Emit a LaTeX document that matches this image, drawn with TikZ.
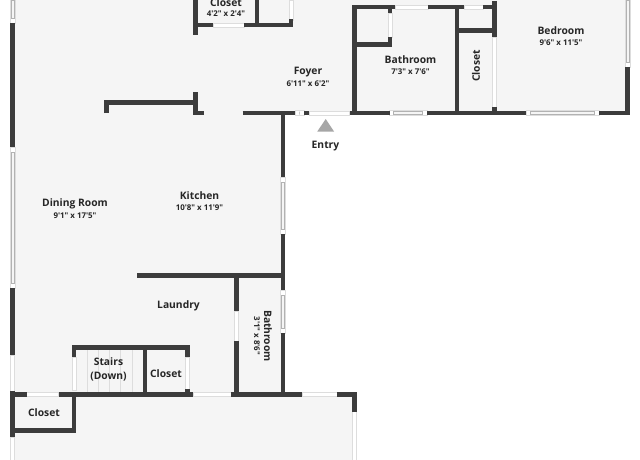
\documentclass[tikz,border=0pt]{standalone}
\usepackage{fontspec}
\setmainfont{Open Sans}[Ligatures=TeXOff]
\definecolor{wallgrey}{HTML}{3C3C3C}
\definecolor{floorgrey}{HTML}{F5F5F5}
\definecolor{edgegrey}{HTML}{DDDDDD}
\begin{document}
\begin{tikzpicture}[
    x=1pt,y=-1pt,
    wall/.style={draw=wallgrey, line width=4.9pt, line join=miter},
    thinwall/.style={draw=wallgrey, line width=4.4pt},
    opening/.style={fill=white, draw=edgegrey, line width=0.6pt},
    pane/.style={fill=floorgrey, draw=gray!60, line width=0.5pt},
    tread/.style={draw=edgegrey, line width=0.6pt},
    room/.style={font=\bfseries\fontsize{10.3}{12}\selectfont, text=black!85, inner sep=0pt, align=center},
    size/.style={font=\bfseries\fontsize{7.9}{9}\selectfont, text=black!85, inner sep=0pt}
    ]
	\useasboundingbox (0,0) rectangle (640,460);
	\fill[white] (0,0) rectangle (640,460);
	\fill[floorgrey] (15,0) -- (627,0) -- (627,113) -- (283,113) -- (283,394) -- (355,394) -- (355,460) -- (15,460) -- cycle;
	% openings in the outer and inner walls
	\foreach \xa/\xb/\yy in {213/244/25, 395/428/7, 464/483/7, 309/349/113, 26.7/58.7/394, 193/231/394, 302/337/394}
		\draw[opening] (\xa,\yy-2) rectangle (\xb,\yy+2);
	\foreach \ya/\yb/\xx in {0/20/291, 13/37/390, 37/107/494.5, 311/341/236.7, 357/390/74, 357/389/187.5, 355/391/12.7, 437/460/12.7, 411/460/354.7}
		\draw[opening] (\xx-2,\ya) rectangle (\xx+2,\yb);
	% windows
	\foreach \xa/\xb in {295/304, 389.5/427, 526/599} {
		\draw[opening] (\xa,110.5) rectangle (\xb,115.5);
		\draw[pane] (\xa+4,111.5) rectangle (\xb-5,114.5);
	}
	\foreach \ya/\yb/\xx in {177/234/283, 290/333/283, -5/23/12.7, 147/288/12.7, -5/67/627.3} {
		\draw[opening] (\xx-2.5,\ya) rectangle (\xx+2.5,\yb);
		\draw[pane] (\xx-1.5,\ya+5) rectangle (\xx+1.5,\yb-5);
	}
	% stair treads
	\foreach \xx in {87.3,98,109.3,120.7,132}
		\draw[tread] (\xx,350) -- (\xx,392);
	% walls
	\draw[wall] (195.5,0) -- (195.5,35);
	\draw[wall] (195.5,25) -- (213,25);
	\draw[wall] (244,25) -- (293,25);
	\draw[wall] (257,0) -- (257,25);
	\draw[thinwall] (291,19.5) -- (291,27);
	\draw[wall] (106.5,113) -- (106.5,102.5) -- (195.5,102.5);
	\draw[wall] (195.5,92) -- (195.5,113) -- (203.5,113);
	\draw[wall] (242.5,113) -- (295,113);
	\draw[wall] (304,113) -- (309,113);
	\draw[wall] (349.5,113) -- (389.5,113);
	\draw[wall] (427,113) -- (526,113);
	\draw[wall] (599,113) -- (629.5,113);
	\draw[wall] (283,113) -- (283,177);
	\draw[wall] (283,234) -- (283,290);
	\draw[wall] (283,333) -- (283,394);
	\draw[wall] (137,275.3) -- (285,275.3);
	\draw[wall] (236.7,275) -- (236.7,311);
	\draw[wall] (236.7,341) -- (236.7,394);
	\draw[wall] (231,394.3) -- (302,394.3);
	\draw[wall] (337,394.3) -- (354.7,394.3) -- (354.7,411.5);
	\draw[wall] (58.7,394.3) -- (193.3,394.3);
	\draw[wall] (10.4,394.3) -- (26.7,394.3);
	\draw[wall] (12.7,23) -- (12.7,147);
	\draw[wall] (12.7,288) -- (12.7,355);
	\draw[wall] (12.7,391) -- (12.7,437);
	\draw[wall] (12.7,430.7) -- (76.3,430.7);
	\draw[wall] (74,392) -- (74,433);
	\draw[wall] (74,357) -- (74,347.7) -- (189.5,347.7);
	\draw[wall] (145,347.7) -- (145,394);
	\draw[thinwall] (187.5,347) -- (187.5,357);
	\draw[thinwall] (187.5,389) -- (187.5,394);
	\draw[wall] (354.7,113) -- (354.7,7) -- (395,7);
	\draw[wall] (354.7,44.7) -- (392,44.7);
	\draw[thinwall] (390,7) -- (390,13);
	\draw[thinwall] (390,37) -- (390,47);
	\draw[wall] (428,7) -- (464,7);
	\draw[wall] (483,7) -- (496.5,7);
	\draw[wall] (457,7) -- (457,113);
	\draw[wall] (457,30.3) -- (496.5,30.3);
	\draw[wall] (494.5,1) -- (494.5,37);
	\draw[thinwall] (494.5,107) -- (494.5,113);
	\draw[wall] (627.3,67) -- (627.3,113);
	% entry marker
	\fill[black!35] (325.7,119) -- (334,131.5) -- (317.3,131.5) -- cycle;
	% labels
	\node[room] (closettop) at (226,3) {Closet};
	\node[size] (closettopsize) at (226,14) {4'2" x 2'4"};
	\node[room] (foyer) at (308,72) {Foyer};
	\node[size] (foyersize) at (308,84) {6'11" x 6'2"};
	\node[room] (entry) at (325.5,146) {Entry};
	\node[room] (bathtop) at (410.5,60) {Bathroom};
	\node[size] (bathtopsize) at (410.5,72) {7'3" x 7'6"};
	\node[room, rotate=90] (closetmid) at (476,66) {Closet};
	\node[room] (bedroom) at (561,31) {Bedroom};
	\node[size] (bedroomsize) at (561,43) {9'6" x 11'5"};
	\node[room] (dining) at (75,204) {Dining Room};
	\node[size] (diningsize) at (75,216) {9'1" x 17'5"};
	\node[room] (kitchen) at (199.5,196) {Kitchen};
	\node[size] (kitchensize) at (199.5,208) {10'8" x 11'9"};
	\node[room] (laundry) at (178.5,306) {Laundry};
	\node[room, rotate=-90] (bathlow) at (268,336) {Bathroom};
	\node[size, rotate=-90] (bathlowsize) at (257,336) {3'1" x 8'6"};
	\node[room, font=\bfseries\fontsize{10.3}{13.5}\selectfont] (stairs) at (108.5,369.5) {Stairs\\(Down)};
	\node[room] (closetstair) at (166,373.5) {Closet};
	\node[room] (closetlow) at (44,412.5) {Closet};
\end{tikzpicture}
\end{document}
